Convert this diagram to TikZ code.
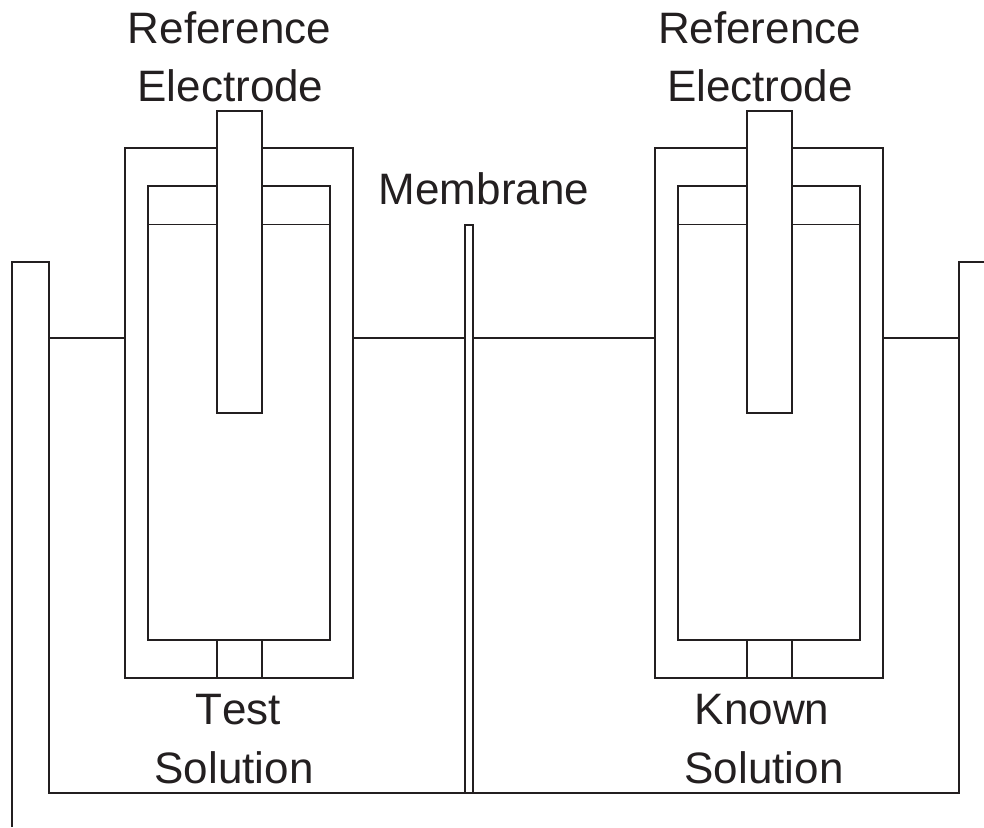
\documentclass[tikz,border=0pt]{standalone}
\usepackage{fontspec}
\setmainfont[Kerning=Off]{Liberation Sans}
\definecolor{ink}{HTML}{231F20}
\tikzset{
  wall/.style={draw=ink,line width=1.5pt,line join=miter},
  thinline/.style={draw=ink,line width=1pt},
  lbl/.style={text=ink,font=\fontsize{44}{44}\selectfont,inner sep=0pt,anchor=base}
}
\newcommand{\cellunit}[1]{%
  \begin{scope}[xshift=#1]
    \draw[wall] (125,148) rectangle (353,678);
    \draw[wall] (148,186) rectangle (330,640);
    \draw[thinline] (148,224) -- (330,224);
    \draw[wall] (217,640) -- (217,678) (262,640) -- (262,678);
    \draw[wall,fill=white] (217,111) rectangle (262,413);
  \end{scope}}
\begin{document}
\begin{tikzpicture}[x=1pt,y=-1pt]
\useasboundingbox (0,0) rectangle (984,827);
\draw[wall] (12,827) -- (12,262) -- (49,262) -- (49,793) -- (959,793) -- (959,262) -- (984,262);
\draw[wall] (465,793) -- (465,225) -- (473,225) -- (473,793);
\draw[wall] (49,338) -- (125,338) (353,338) -- (465,338) (473,338) -- (655,338) (883,338) -- (959,338);
\cellunit{0pt}
\cellunit{530pt}
\node[lbl] (r1a) at (229.5,43) {Reference};
\node[lbl] (r1b) at (230.5,101.5) {Electrode};
\node[lbl] (r2a) at (759.5,43) {Reference};
\node[lbl] (r2b) at (760,101.5) {Electrode};
\node[lbl] (mem) at (484,204) {Membrane};
\node[lbl] (t1) at (238,724) {Test};
\node[lbl] (t2) at (234,783) {Solution};
\node[lbl] (k1) at (762,724) {Known};
\node[lbl] (k2) at (764,783) {Solution};
\end{tikzpicture}
\end{document}
